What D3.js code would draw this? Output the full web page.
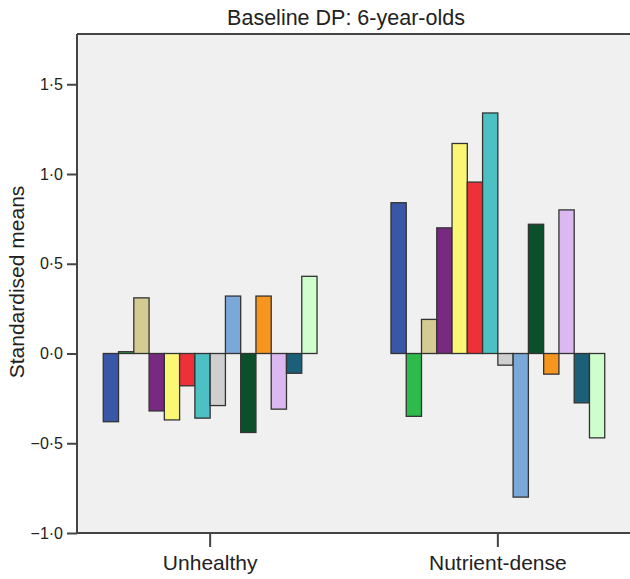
<!DOCTYPE html>
<html>
<head>
<meta charset="utf-8">
<script src="https://cdn.jsdelivr.net/npm/d3@7"></script>
<style>
  body { margin: 0; background: #fff; }
  text { font-family: "Liberation Sans", Arial, sans-serif; fill: #222; }
</style>
</head>
<body>
<div id="chart"></div>
<script>
var categories = ["Unhealthy", "Nutrient-dense"];

// one colour per series, in draw order
var seriesColors = ["#3a56a6", "#2fba4c", "#d3cb91", "#782a80", "#fbf775", "#ee3138", "#4cc0c2",
                    "#cfcfcf", "#7aa8d8", "#0b502a", "#f7961e", "#dbb8ef", "#1b5f78", "#cdfecb"];

var unhealthy = [-0.38, 0.01, 0.31, -0.32, -0.37, -0.18, -0.36, -0.29, 0.32, -0.44, 0.32, -0.31, -0.11, 0.43];
var nutrientDense = [0.84, -0.35, 0.19, 0.70, 1.17, 0.955, 1.34, -0.065, -0.80, 0.72, -0.115, 0.80, -0.275, -0.47];

var yTicks = [-1.0, -0.5, 0.0, 0.5, 1.0, 1.5];

var values = [unhealthy, nutrientDense];

var width = 630, height = 579;
var margin = {top: 34, right: -1, bottom: 46, left: 77};

var svg = d3.select("#chart")
    .append("svg")
    .attr("width", width)
    .attr("height", height);

var x = d3.scaleBand()
    .domain(categories)
    .range([margin.left, width - margin.right])
    .paddingInner(0.257)
    .paddingOuter(0.0913);

var xs = d3.scaleBand()
    .domain(d3.range(seriesColors.length))
    .range([0, x.bandwidth()]);

var y = d3.scaleLinear()
    .domain([-1.0, 1.78])
    .range([height - margin.bottom, margin.top]);

// plot background
svg.append("rect")
    .attr("x", margin.left)
    .attr("y", margin.top)
    .attr("width", width - margin.left - margin.right)
    .attr("height", height - margin.top - margin.bottom)
    .attr("fill", "#f0f0f0");

var fmt = function(d) {
    return d3.format(".1f")(d).replace(".", "\u00b7").replace("-", "\u2212");
};

var groups = svg.append("g")
    .selectAll("g")
    .data(categories)
    .enter().append("g")
    .attr("transform", function(d) { return "translate(" + x(d) + ",0)"; });

groups.selectAll("rect")
    .data(function(d, i) { return values[i]; })
    .enter().append("rect")
    .attr("x", function(d, i) { return xs(i); })
    .attr("width", xs.bandwidth())
    .attr("y", function(d) { return y(Math.max(0, d)); })
    .attr("height", function(d) { return Math.abs(y(d) - y(0)); })
    .attr("fill", function(d, i) { return seriesColors[i]; })
    .attr("stroke", "#333")
    .attr("stroke-width", 1.3);

// frame lines
svg.append("line")
    .attr("x1", margin.left).attr("x2", width)
    .attr("y1", margin.top).attr("y2", margin.top)
    .attr("stroke", "#444").attr("stroke-width", 2);

var yAxis = svg.append("g")
    .attr("transform", "translate(" + margin.left + ",0)")
    .call(d3.axisLeft(y).tickValues(yTicks).tickFormat(fmt).tickSize(10).tickSizeOuter(0).tickPadding(4));

yAxis.select(".domain")
    .attr("d", "M0," + margin.top + "V" + (height - margin.bottom))
    .attr("stroke", "#444").attr("stroke-width", 2);
yAxis.selectAll(".tick line").attr("stroke", "#444").attr("stroke-width", 2);
yAxis.selectAll(".tick text")
    .attr("font-size", 16)
    .attr("font-family", "'Liberation Sans', Arial, sans-serif")
    .attr("fill", "#333");

var xAxis = svg.append("g")
    .attr("transform", "translate(0," + (height - margin.bottom) + ")")
    .call(d3.axisBottom(x).tickSize(14).tickSizeOuter(0).tickPadding(8));

xAxis.select(".domain")
    .attr("d", "M" + margin.left + ",0H" + width)
    .attr("stroke", "#444").attr("stroke-width", 2);
xAxis.selectAll(".tick line").attr("stroke", "#444").attr("stroke-width", 2);
xAxis.selectAll(".tick text")
    .attr("font-size", 21)
    .attr("font-family", "'Liberation Sans', Arial, sans-serif")
    .attr("fill", "#222");

svg.append("text")
    .attr("x", 346)
    .attr("y", 25)
    .attr("text-anchor", "middle")
    .attr("font-size", 21.5)
    .text("Baseline DP: 6-year-olds");

svg.append("text")
    .attr("transform", "translate(24,282) rotate(-90)")
    .attr("text-anchor", "middle")
    .attr("font-size", 21)
    .text("Standardised means");
</script>
</body>
</html>
